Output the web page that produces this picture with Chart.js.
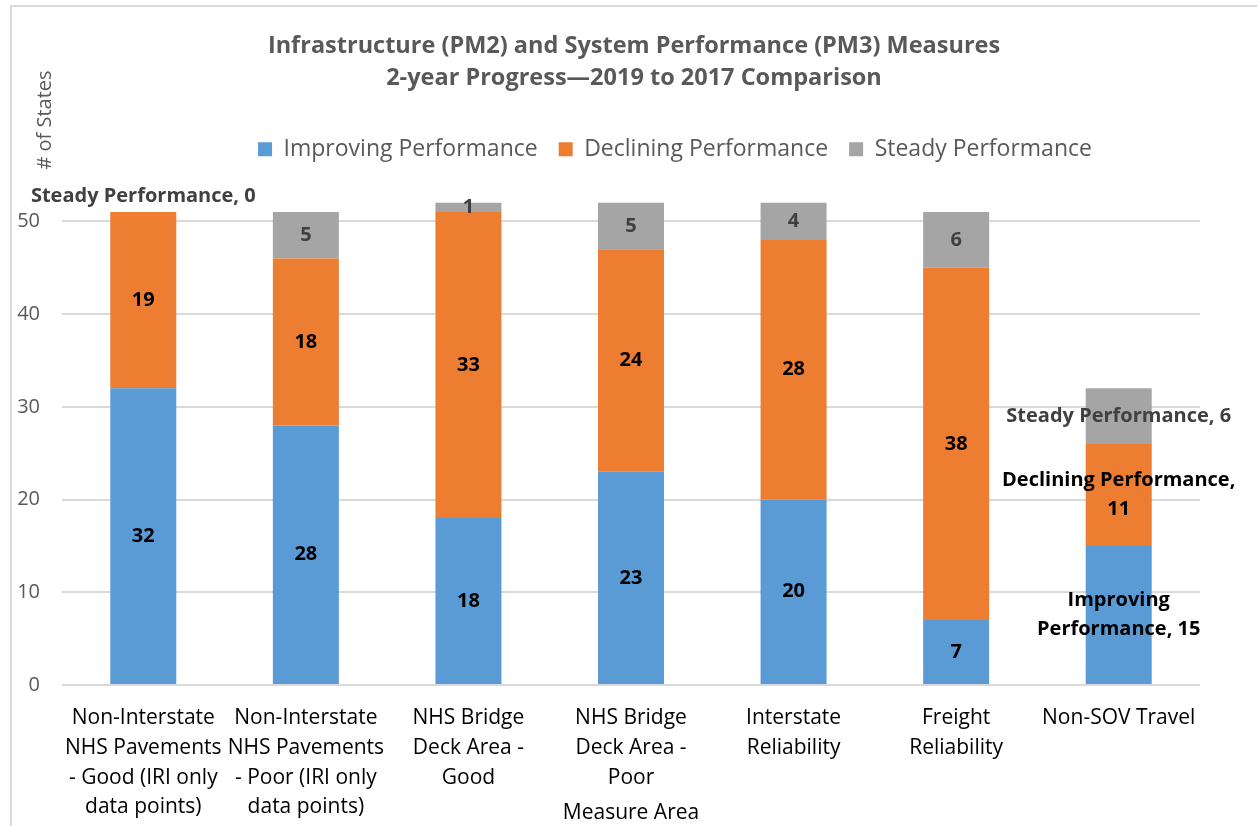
<!DOCTYPE html>
<html>
<head>
<meta charset="utf-8">
<script src="https://cdn.jsdelivr.net/npm/chart.js@4.4.1/dist/chart.umd.min.js"></script>
<style>
  html, body { margin: 0; padding: 0; background: #fff; }
  #wrap { width: 1257px; height: 826px; }
</style>
</head>
<body>
<div id="wrap"><canvas id="myChart"></canvas></div>
<script>
const categories = [
    ["Non-Interstate", "NHS Pavements", "- Good (IRI only", "data points)"],
    ["Non-Interstate", "NHS Pavements", "- Poor (IRI only", "data points)"],
    ["NHS Bridge", "Deck Area -", "Good"],
    ["NHS Bridge", "Deck Area -", "Poor"],
    ["Interstate", "Reliability"],
    ["Freight", "Reliability"],
    ["Non-SOV Travel"]
];
const improving = [32, 28, 18, 23, 20, 7, 15];
const declining = [19, 18, 33, 24, 28, 38, 11];
const steady = [0, 5, 1, 5, 4, 6, 6];
const yTicks = [0, 10, 20, 30, 40, 50];

const FONT = "'Open Sans', 'Noto Sans', sans-serif";

// labels that show the series name (last bar, and the zero one)
const namedLabels = {
    "Improving Performance": { 6: ["Improving", "Performance, 15"] },
    "Declining Performance": { 6: ["Declining Performance,", "11"] },
    "Steady Performance": { 0: ["Steady Performance, 0"], 6: ["Steady Performance, 6"] }
};

const barLabels = {
    id: 'barLabels',
    afterDatasetsDraw(chart) {
        const ctx = chart.ctx;
        ctx.save();
        ctx.font = "bold 20px " + FONT;
        ctx.textAlign = 'center';
        ctx.textBaseline = 'middle';
        chart.data.datasets.forEach((ds, di) => {
            const meta = chart.getDatasetMeta(di);
            ctx.fillStyle = ds.labelColor;
            meta.data.forEach((bar, i) => {
                const v = ds.data[i];
                let lines = (namedLabels[ds.label] || {})[i] || [String(v)];
                let cy = (bar.y + bar.base) / 2;
                if (v === 0) cy = bar.y - 16;
                const lh = 29.5;
                const y0 = cy - (lines.length - 1) * lh / 2;
                lines.forEach((t, k) => ctx.fillText(t, bar.x, y0 + k * lh));
            });
        });
        ctx.restore();
    }
};

const frame = {
    id: 'frame',
    beforeDraw(chart) {
        const ctx = chart.ctx;
        ctx.save();
        ctx.fillStyle = '#fff';
        ctx.fillRect(0, 0, chart.width, chart.height);
        ctx.strokeStyle = '#D9D9D9';
        ctx.lineWidth = 2;
        ctx.strokeRect(11, 6, chart.width + 20, chart.height + 20);
        ctx.restore();
    },
    afterLayout(chart) {
        // title and legend are not centred on the plot in the original
        chart.titleBlock.left += 27;
        chart.titleBlock.right += 27;
        chart.legend.left += 68;
        chart.legend.right += 68;
    },
    afterDraw(chart) {
        const ctx = chart.ctx;
        ctx.save();
        ctx.translate(45, 120);
        ctx.rotate(-Math.PI / 2);
        ctx.font = "20px " + FONT;
        ctx.fillStyle = '#595959';
        ctx.textAlign = 'center';
        ctx.textBaseline = 'middle';
        ctx.fillText("# of States", 0, 0);
        ctx.restore();
    }
};

new Chart("myChart", {
    type: 'bar',
    data: {
        labels: categories,
        datasets: [
            { label: "Improving Performance", data: improving, backgroundColor: '#5B9BD5', labelColor: '#000' },
            { label: "Declining Performance", data: declining, backgroundColor: '#ED7D31', labelColor: '#000' },
            { label: "Steady Performance", data: steady, backgroundColor: '#A5A5A5', labelColor: '#404040' }
        ]
    },
    options: {
        responsive: true,
        maintainAspectRatio: false,
        animation: false,
        datasets: {
            bar: { barPercentage: 0.406, categoryPercentage: 1 }
        },
        layout: { padding: { left: 14, right: 57, top: 10, bottom: 0 } },
        plugins: {
            title: {
                display: true,
                text: ["Infrastructure (PM2) and System Performance (PM3) Measures", "2-year Progress\u20142019 to 2017 Comparison"],
                color: '#595959',
                font: { family: FONT, size: 23.5, weight: 'bold', lineHeight: 1.38 },
                padding: { top: 20, bottom: 22 }
            },
            legend: {
                display: true,
                labels: {
                    color: '#595959',
                    font: { family: FONT, size: 23 },
                    boxWidth: 14,
                    boxHeight: 14,
                    padding: 21
                }
            },
            tooltip: { enabled: false }
        },
        scales: {
            x: {
                stacked: true,
                afterFit: (scale) => { scale.height = 141; },
                grid: { display: false, drawTicks: false },
                border: { display: false },
                ticks: {
                    color: '#000',
                    font: { family: FONT, size: 21, lineHeight: 1.42 },
                    maxRotation: 0,
                    autoSkip: false,
                    padding: 18
                },
                title: {
                    display: true,
                    text: "Measure Area",
                    color: '#000',
                    font: { family: FONT, size: 21 },
                    padding: { top: 0, bottom: 0 }
                }
            },
            y: {
                stacked: true,
                min: 0,
                max: 55.45,
                afterBuildTicks: (scale) => { scale.ticks = yTicks.map(v => ({ value: v })); },
                afterFit: (scale) => { scale.width = 48; },
                grid: { color: '#D9D9D9', lineWidth: 2, drawTicks: false },
                border: { display: false },
                ticks: {
                    color: '#595959',
                    font: { family: FONT, size: 20 },
                    padding: 22
                }
            }
        }
    },
    plugins: [frame, barLabels]
});
</script>
</body>
</html>
